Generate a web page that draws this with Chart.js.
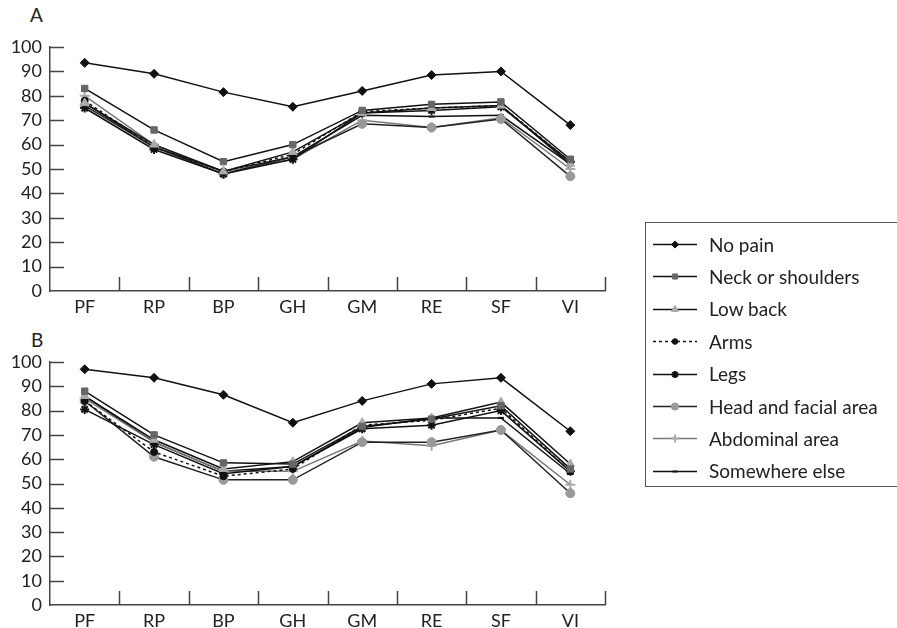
<!DOCTYPE html>
<html>
<head>
<meta charset="utf-8">
<script src="https://cdn.jsdelivr.net/npm/chart.js@4.4.1/dist/chart.umd.min.js"></script>
<style>
  body { margin: 0; background: #fff; font-family: Lato, sans-serif; }
  #page { position: relative; width: 897px; height: 628px; overflow: hidden; }
  .panel { position: absolute; left: 0; width: 620px; }
  .tag { position: absolute; font-size: 19px; color: #222; }
  #legend { position: absolute; left: 645px; top: 222px; width: 270px; height: 265px;
            border: 1px solid #555; box-sizing: border-box; }
  .row { position: absolute; left: 0; height: 30px; display: flex; align-items: center; }
  .row canvas { margin-left: 7px; }
  .row span { margin-left: 10px; font-size: 19px; color: #222; white-space: nowrap; }
</style>
</head>
<body>
<div id="page">
  <div class="tag" style="left:30px; top:3px;">A</div>
  <div class="tag" style="left:31px; top:328px;">B</div>
  <div class="panel" style="top:0; height:320px;"><canvas id="chartA"></canvas></div>
  <div class="panel" style="top:315px; height:313px;"><canvas id="chartB"></canvas></div>
  <div id="legend"></div>
</div>
<script>
// scales of the SF-36 (A and B panels)
let categories = ["PF", "RP", "BP", "GH", "GM", "RE", "SF", "VI"];
let seriesNames = ["No pain", "Neck or shoulders", "Low back", "Arms", "Legs",
    "Head and facial area", "Abdominal area", "Somewhere else"];

// panel A
let noPainA  = [93.5, 89, 81.5, 75.5, 82, 88.5, 90, 68];
let neckA    = [83, 66, 53, 60, 74, 76.5, 77.5, 54];
let lowBackA = [77, 60, 49, 57, 73, 75, 76, 52];
let armsA    = [78, 59, 49, 56, 73.5, 75, 76, 53];
let legsA    = [75, 58, 48, 54, 73, 74, 75.5, 53];
let headA    = [76, 59, 48, 55, 68.5, 67, 70.5, 47];
let abdomA   = [80, 60, 49, 54, 70, 67, 71, 50];
let elseA    = [77, 59, 49, 55, 72, 71.5, 72, 52];

// panel B
let noPainB  = [97, 93.5, 86.5, 75, 84, 91, 93.5, 71.5];
let neckB    = [88, 70, 58.5, 58, 73.5, 76.5, 82, 56];
let lowBackB = [86, 68, 56, 59, 75, 77, 83.5, 58];
let armsB    = [84, 63, 53, 56, 74, 76, 81, 55];
let legsB    = [80.5, 66, 54, 57, 72.5, 74, 80, 55];
let headB    = [84, 61, 51.5, 51.5, 67, 67, 72, 46];
let abdomB   = [85, 67, 55, 55, 67.5, 65.5, 72, 49.5];
let elseB    = [86, 67, 55, 57, 73, 77, 77, 54];

let yTicks = [0, 10, 20, 30, 40, 50, 60, 70, 80, 90, 100];

// look of each series
let styles = [
    {pointStyle: "rectRot", color: "#111", fill: "#111", radius: 4.5},
    {pointStyle: "rect", color: "#111", fill: "#666", radius: 4.5},
    {pointStyle: "triangle", color: "#111", fill: "#aaa", radius: 5},
    {pointStyle: "circle", color: "#111", fill: "#111", radius: 3.5, dash: [3, 3]},
    {pointStyle: "star", color: "#111", fill: "#111", radius: 4.5},
    {pointStyle: "circle", color: "#222", fill: "#999", radius: 4.5},
    {pointStyle: "cross", color: "#777", fill: "#aaa", radius: 5},
    {pointStyle: "line", color: "#111", fill: "#111", radius: 3}
];

function thick(style) {
    return style === "cross" || style === "star" || style === "line";
}

function makeDatasets(list) {
    return list.map(function (values, i) {
        let s = styles[i];
        return {
            label: seriesNames[i],
            data: values,
            borderColor: s.color,
            borderWidth: 1.5,
            borderDash: s.dash || [],
            tension: 0,
            pointStyle: s.pointStyle,
            pointRadius: s.radius,
            pointBackgroundColor: s.fill,
            pointBorderColor: s.fill,
            pointBorderWidth: thick(s.pointStyle) ? 2 : 1
        };
    });
}

// ticks that point into the plot, like the original figure
let innerTicks = {
    id: "innerTicks",
    beforeDatasetsDraw(chart) {
        let ctx = chart.ctx;
        let x = chart.scales.x, y = chart.scales.y;
        ctx.save();
        ctx.strokeStyle = "#444";
        ctx.lineWidth = 1.5;
        ctx.beginPath();
        yTicks.forEach(function (v) {
            if (v === 0) return;
            let py = Math.round(y.getPixelForValue(v)) + 0.5;
            ctx.moveTo(x.left, py);
            ctx.lineTo(x.left + 14, py);
        });
        for (let i = 1; i <= categories.length; i++) {
            let px = i < categories.length
                ? (x.getPixelForValue(i - 1) + x.getPixelForValue(i)) / 2
                : x.right;
            px = Math.round(px) + 0.5;
            ctx.moveTo(px, y.bottom);
            ctx.lineTo(px, y.bottom - 14);
        }
        ctx.stroke();
        ctx.restore();
    }
};

function makeChart(id, datasets, bottomSpace) {
    return new Chart(document.getElementById(id), {
        type: "line",
        data: {labels: categories, datasets: makeDatasets(datasets)},
        options: {
            responsive: true,
            maintainAspectRatio: false,
            animation: false,
            layout: {padding: {top: 47, right: 15, left: 0, bottom: 0}},
            plugins: {legend: {display: false}, tooltip: {enabled: false}},
            scales: {
                x: {
                    offset: true,
                    grid: {display: false, drawTicks: false},
                    border: {display: true, color: "#444", width: 1.5},
                    ticks: {color: "#222", padding: 5, font: {family: "Lato", size: 18}},
                    afterFit: function (scale) { scale.height = bottomSpace; }
                },
                y: {
                    min: 0, max: 100,
                    afterBuildTicks: function (scale) {
                        scale.ticks = yTicks.map(function (v) { return {value: v}; });
                    },
                    grid: {display: false, drawTicks: false},
                    border: {display: true, color: "#444", width: 1.5},
                    ticks: {color: "#222", padding: 8, autoSkip: false, font: {family: "Lato", size: 18}},
                    afterFit: function (scale) { scale.width = 50; }
                }
            }
        },
        plugins: [innerTicks]
    });
}

makeChart("chartA", [noPainA, neckA, lowBackA, armsA, legsA, headA, abdomA, elseA], 29);
makeChart("chartB", [noPainB, neckB, lowBackB, armsB, legsB, headB, abdomB, elseB], 23);

// legend box on the right
let legend = document.getElementById("legend");
seriesNames.forEach(function (name, i) {
    let s = styles[i];
    let row = document.createElement("div");
    row.className = "row";
    row.style.top = (6 + i * 32.4) + "px";
    let c = document.createElement("canvas");
    c.width = 46; c.height = 30;
    let ctx = c.getContext("2d");
    ctx.strokeStyle = s.color;
    ctx.lineWidth = 1.5;
    ctx.setLineDash(s.dash || []);
    ctx.beginPath();
    ctx.moveTo(0, 15.5); ctx.lineTo(44, 15.5);
    ctx.stroke();
    ctx.setLineDash([]);
    ctx.fillStyle = s.fill;
    ctx.strokeStyle = s.fill;
    ctx.lineWidth = thick(s.pointStyle) ? 2 : 1;
    Chart.helpers.drawPoint(ctx, {pointStyle: s.pointStyle, radius: s.radius * 0.8, rotation: 0, borderWidth: ctx.lineWidth}, 22, 15.5);
    row.appendChild(c);
    let t = document.createElement("span");
    t.textContent = name;
    row.appendChild(t);
    legend.appendChild(row);
});
</script>
</body>
</html>
